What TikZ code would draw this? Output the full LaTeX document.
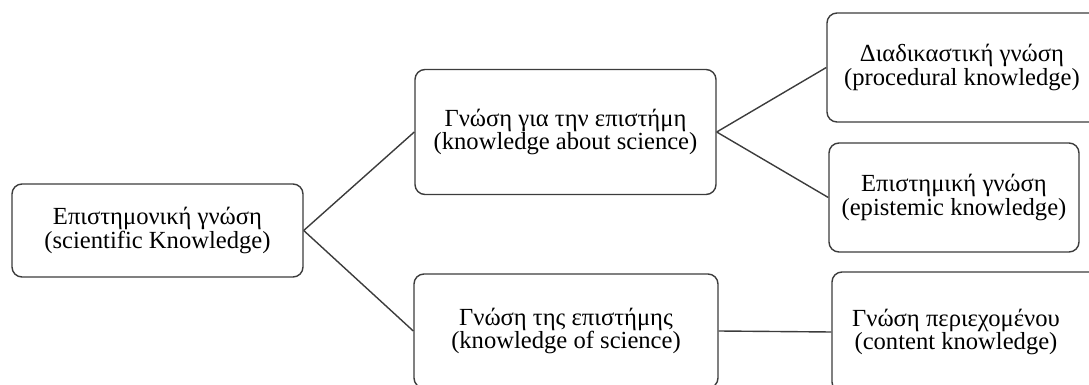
\documentclass[tikz,border=0pt]{standalone}
\usepackage{fontspec}
\setmainfont{Liberation Serif}
\definecolor{edgegray}{HTML}{3C3C3C}
\begin{document}
\begin{tikzpicture}[x=0.5pt, y=-0.5pt,
	ktext/.style={align=center, font=\fontsize{12.3}{11.8}\selectfont, inner sep=0pt},
	kbox/.style={ktext, draw=edgegray, line width=0.7pt, rounded corners=5pt},
	link/.style={draw=edgegray, line width=0.7pt}]
	\useasboundingbox (0, 0) rectangle (1089, 385);
	\clip (0, 0) rectangle (1089, 385);
	\node[kbox, minimum width=145.5pt, minimum height=46.5pt] (root) at (157.5, 230.5) {Επιστημονική γνώση\\(scientific Knowledge)};
	\node[kbox, minimum width=150.5pt, minimum height=62.5pt] (about) at (565.5, 132) {Γνώση για την επιστήμη\\(knowledge about science)};
	\node[kbox, minimum width=152pt, minimum height=57pt] (of) at (566, 331) {Γνώση της επιστήμης\\(knowledge of science)};
	\node[kbox, minimum width=125pt, minimum height=54.5pt] (epist) at (954, 197.5) {Επιστημική γνώση\\(epistemic knowledge)};
	% right edge runs off the page
	\node[kbox, minimum width=160pt, minimum height=54.5pt] (proc) at (987, 67.5) {};
	\node[ktext] (proctext) at (962, 67.5) {Διαδικαστική γνώση\\(procedural knowledge)};
	\node[kbox, minimum width=160pt, minimum height=60pt] (content) at (992, 332) {};
	\node[ktext] (contenttext) at (956, 332) {Γνώση περιεχομένου\\(content knowledge)};
	% branches
	\draw[link] (root.east) -- (about.west);
	\draw[link] (root.east) -- (of.west);
	\draw[link] (about.east) -- (proc.west);
	\draw[link] (about.east) -- (epist.west);
	\draw[link] (of.east) -- (content.west);
\end{tikzpicture}
\end{document}
